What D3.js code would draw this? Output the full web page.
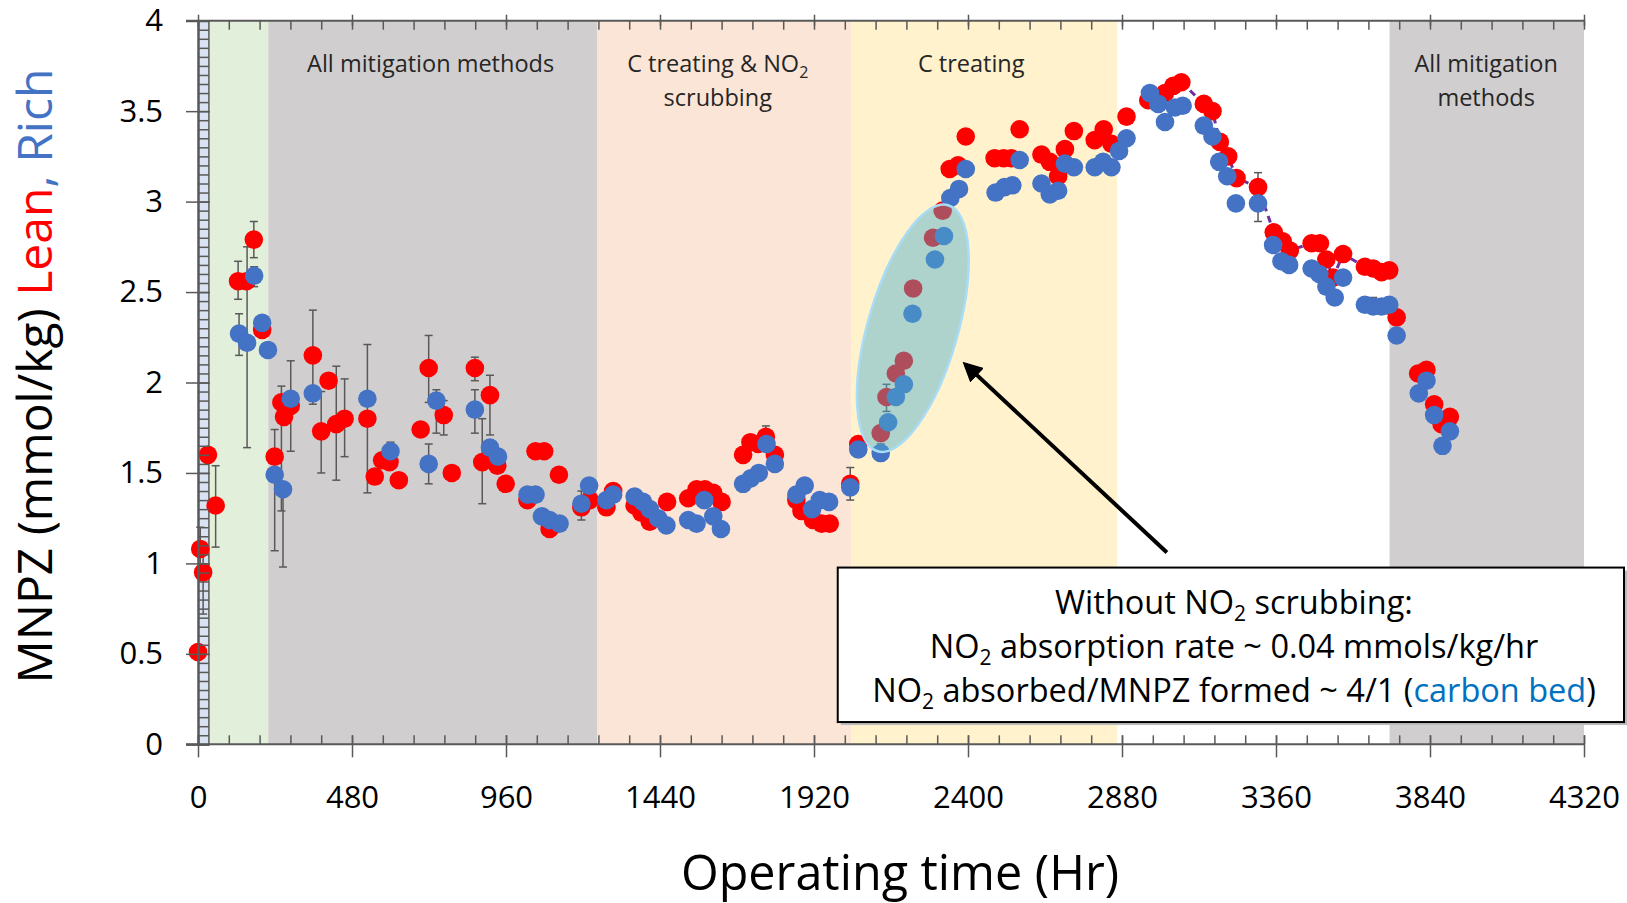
<!DOCTYPE html>
<html>
<head>
<meta charset="utf-8">
<script src="https://cdn.jsdelivr.net/npm/d3@7"></script>
<style>
  body { margin: 0; background: #fff; }
  text { font-family: "Open Sans", sans-serif; }
</style>
</head>
<body>
<svg id="chart" width="1627" height="903"></svg>
<script>
// Lean (red) MNPZ, [hours, mmol/kg]
var leanData = [[0,0.51],[7,1.08],[16,0.95],[31,1.60],[55,1.32],[125,2.56],[151,2.56],[174,2.79],[200,2.29],
  [239,1.59],[260,1.89],[268,1.81],[289,1.87],[358,2.15],[384,1.73],[407,2.01],[431,1.77],[457,1.80],
  [528,1.80],[551,1.48],[574,1.57],[597,1.56],[626,1.46],[694,1.74],[719,2.08],[766,1.82],[791,1.50],
  [863,2.08],[886,1.56],[910,1.93],[933,1.54],[959,1.44],[1027,1.35],[1052,1.62],[1079,1.62],[1096,1.19],
  [1125,1.49],[1195,1.31],[1221,1.35],[1273,1.31],[1294,1.40],[1361,1.32],[1382,1.28],[1408,1.23],
  [1462,1.34],[1528,1.36],[1554,1.41],[1580,1.41],[1606,1.39],[1632,1.34],[1699,1.60],[1722,1.67],
  [1746,1.66],[1770,1.70],[1798,1.60],[1865,1.35],[1881,1.29],[1917,1.24],[1944,1.22],[1969,1.22],
  [2033,1.44],[2058,1.66],[2128,1.72],[2146,1.92],[2175,2.05],[2200,2.12],[2229,2.52],[2291,2.80],
  [2321,2.95],[2343,3.18],[2369,3.20],[2393,3.36],[2483,3.24],[2511,3.24],[2535,3.24],[2561,3.40],
  [2629,3.26],[2655,3.22],[2681,3.14],[2702,3.29],[2730,3.39],[2795,3.34],[2823,3.40],[2847,3.32],
  [2894,3.47],[2962,3.56],[3014,3.60],[3040,3.64],[3065,3.66],[3135,3.54],[3162,3.50],[3185,3.33],
  [3211,3.25],[3237,3.13],[3304,3.08],[3353,2.83],[3381,2.78],[3403,2.73],[3471,2.77],[3497,2.77],
  [3517,2.68],[3538,2.58],[3569,2.71],[3637,2.64],[3663,2.63],[3689,2.61],[3713,2.62],[3736,2.36],
  [3803,2.05],[3829,2.07],[3853,1.88],[3876,1.77],[3902,1.81]];

// Rich (blue) MNPZ, [hours, mmol/kg]
var richData = [[128,2.27],[153,2.22],[175,2.59],[200,2.33],[218,2.18],[239,1.49],[265,1.41],[289,1.91],
  [358,1.94],[528,1.91],[600,1.62],[719,1.55],[743,1.90],[863,1.85],[910,1.64],[935,1.59],[1027,1.38],
  [1052,1.38],[1072,1.26],[1096,1.24],[1127,1.22],[1195,1.33],[1219,1.43],[1273,1.35],[1294,1.38],
  [1361,1.37],[1387,1.34],[1408,1.30],[1434,1.25],[1460,1.21],[1528,1.24],[1554,1.22],[1578,1.35],
  [1606,1.26],[1630,1.19],[1699,1.44],[1723,1.47],[1748,1.50],[1772,1.66],[1798,1.55],[1865,1.38],
  [1891,1.43],[1914,1.30],[1938,1.35],[1967,1.34],[2033,1.42],[2058,1.63],[2128,1.61],[2151,1.78],
  [2175,1.92],[2200,1.99],[2227,2.38],[2297,2.68],[2325,2.81],[2345,3.02],[2372,3.07],[2393,3.18],
  [2486,3.05],[2514,3.08],[2538,3.09],[2561,3.23],[2629,3.10],[2655,3.04],[2681,3.06],[2702,3.21],
  [2730,3.19],[2795,3.19],[2821,3.22],[2847,3.19],[2871,3.28],[2894,3.35],[2967,3.60],[2993,3.54],
  [3014,3.44],[3045,3.52],[3069,3.53],[3135,3.42],[3162,3.36],[3183,3.22],[3208,3.14],[3235,2.99],
  [3304,2.99],[3351,2.76],[3377,2.67],[3401,2.65],[3471,2.63],[3495,2.60],[3517,2.53],[3543,2.47],
  [3569,2.58],[3637,2.43],[3663,2.42],[3689,2.42],[3713,2.43],[3736,2.26],[3805,1.94],[3829,2.01],
  [3853,1.82],[3879,1.65],[3902,1.73]];

// error bars [hours, low, high]
var errorBars = [[7,0.95,1.20],[16,0.72,1.08],[55,1.09,1.54],[125,2.46,2.67],[174,2.69,2.89],[239,1.07,1.74],
  [260,1.29,1.98],[289,1.62,2.12],[358,1.88,2.40],[384,1.50,1.95],[431,1.46,2.09],[457,1.59,2.02],
  [528,1.39,2.21],[719,1.89,2.26],[766,1.71,1.90],[863,2.01,2.14],[886,1.33,1.80],[910,1.71,2.04],
  [959,1.40,1.47],[1079,1.59,1.66],[1195,1.24,1.40],[1294,1.36,1.44],[1770,1.66,1.76],[2033,1.35,1.53],
  [2058,1.62,1.70],[3304,2.89,3.16],[128,2.15,2.38],[153,1.64,2.75],[175,2.53,2.64],[265,0.98,1.41],
  [600,1.55,1.67],[719,1.44,1.66],[743,1.72,1.96],[863,1.72,1.96],[2128,1.58,1.66],[2146,1.84,1.99],
  [3663,2.38,2.47],[3713,2.38,2.47]];

// operating periods [start, end, colour, label lines]
var periods = [
  [0, 34, "#dae3f3", []],
  [34, 219, "#e2efda", []],
  [219, 1245, "#d0cece", ["All mitigation methods"]],
  [1245, 2036, "#fbe5d6", ["C treating & NO|2", "scrubbing"]],
  [2036, 2865, "#fff2cc", ["C treating"]],
  [3714, 4320, "#d0cece", ["All mitigation", "methods"]]
];
var periodLabelX = [null, null, 725, 1620, 2410, 4015];

var xMajor = d3.range(0, 4321, 480);
var xMinor = d3.range(0, 4321, 96);
var yMajor = d3.range(0, 4.01, 0.5);
var yMinor = d3.range(0, 4.001, 0.05);

var boxLines = [
  [["Without NO", "k"], ["2", "sub"], [" scrubbing:", "k"]],
  [["NO", "k"], ["2", "sub"], [" absorption rate ~ 0.04 mmols/kg/hr", "k"]],
  [["NO", "k"], ["2", "sub"], [" absorbed/MNPZ formed ~ 4/1 (", "k"], ["carbon bed", "b"], [")", "k"]]
];

var svg = d3.select("#chart");
var x = d3.scaleLinear().domain([0, 4320]).range([198, 1584]);
var y = d3.scaleLinear().domain([0, 4]).range([744.3, 20.7]);
var axisCol = "#595959";

// background bands
periods.forEach(function(p, i) {
  svg.append("rect")
    .attr("x", x(p[0])).attr("y", y(4))
    .attr("width", x(p[1]) - x(p[0])).attr("height", y(0) - y(4))
    .attr("fill", p[2]);
  p[3].forEach(function(line, j) {
    var t = svg.append("text")
      .attr("x", x(periodLabelX[i])).attr("y", 72 + j * 34)
      .attr("text-anchor", "middle")
      .style("font-size", "23.5px").attr("fill", "#262626");
    var parts = line.split("|");
    t.append("tspan").text(parts[0]);
    if (parts[1]) t.append("tspan").attr("dy", 6).style("font-size", "16px").text(parts[1]);
  });
});
// blue strip edge
svg.append("line").attr("x1", x(34)).attr("x2", x(34)).attr("y1", y(0)).attr("y2", y(4))
  .attr("stroke", axisCol).attr("stroke-width", 1.5);

// trend line through the lean data on the way down
var trend = leanData.filter(function(d) { return d[0] >= 3065 && d[0] <= 3713; });
svg.append("path")
  .datum(trend)
  .attr("d", d3.line().x(function(d) { return x(d[0]); }).y(function(d) { return y(d[1]); }))
  .attr("fill", "none").attr("stroke", "#7030a0").attr("stroke-width", 3)
  .attr("stroke-dasharray", "7,5");

// error bars
var eb = svg.append("g").attr("stroke", "#595959").attr("stroke-width", 1.5);
errorBars.forEach(function(e) {
  eb.append("line").attr("x1", x(e[0])).attr("x2", x(e[0])).attr("y1", y(e[1])).attr("y2", y(e[2]));
  eb.append("line").attr("x1", x(e[0]) - 4).attr("x2", x(e[0]) + 4).attr("y1", y(e[1])).attr("y2", y(e[1]));
  eb.append("line").attr("x1", x(e[0]) - 4).attr("x2", x(e[0]) + 4).attr("y1", y(e[2])).attr("y2", y(e[2]));
});

svg.append("g").selectAll("circle").data(leanData).enter().append("circle")
  .attr("cx", function(d) { return x(d[0]); })
  .attr("cy", function(d) { return y(d[1]); })
  .attr("r", 9.3).attr("fill", "#ff0000");

svg.append("g").selectAll("circle").data(richData).enter().append("circle")
  .attr("cx", function(d) { return x(d[0]); })
  .attr("cy", function(d) { return y(d[1]); })
  .attr("r", 9.3).attr("fill", "#4472c4");

// axes
var fmt = d3.format("");
var bottomMin = svg.append("g").attr("transform", "translate(0," + y(0) + ")")
  .call(d3.axisTop(x).tickValues(xMinor).tickSize(9).tickFormat(""));
var bottomMaj = svg.append("g").attr("transform", "translate(0," + y(0) + ")")
  .call(d3.axisBottom(x).tickValues(xMajor).tickSize(13).tickPadding(29).tickFormat(fmt));
bottomMaj.selectAll(".tick line").attr("y1", -9);
bottomMaj.selectAll("text").style("font-size", "31px").attr("fill", "#000");

var topMin = svg.append("g").attr("transform", "translate(0," + y(4) + ")")
  .call(d3.axisBottom(x).tickValues(xMinor).tickSize(9).tickFormat(""));
var topMaj = svg.append("g").attr("transform", "translate(0," + y(4) + ")")
  .call(d3.axisBottom(x).tickValues(xMajor).tickSize(5).tickFormat(""));
topMaj.selectAll(".tick line").attr("y1", -6);

var leftMin = svg.append("g").attr("transform", "translate(" + x(0) + ",0)")
  .call(d3.axisRight(y).tickValues(yMinor).tickSize(11).tickFormat(""));
var leftMaj = svg.append("g").attr("transform", "translate(" + x(0) + ",0)")
  .call(d3.axisLeft(y).tickValues(yMajor).tickSize(12).tickPadding(23).tickFormat(fmt));
leftMaj.selectAll(".tick line").attr("x1", 12);
leftMaj.selectAll("text").style("font-size", "31px").attr("fill", "#000");

[bottomMin, bottomMaj, topMin, topMaj, leftMin, leftMaj].forEach(function(g) {
  g.selectAll(".domain").attr("stroke", axisCol).attr("stroke-width", 2);
  g.selectAll(".tick line").attr("stroke", axisCol).attr("stroke-width", 1.5);
});
bottomMin.select(".domain").attr("d", "M186,0H1584");
topMin.select(".domain").attr("d", "M186,0H1584");
bottomMaj.select(".domain").remove();
topMaj.select(".domain").remove();

// highlight ellipse
svg.append("ellipse")
  .attr("transform", "translate(" + x(2228) + "," + y(2.30) + ") rotate(16)")
  .attr("rx", 45).attr("ry", 128)
  .attr("fill", "rgba(75,170,205,0.45)")
  .attr("stroke", "#a9dcf5").attr("stroke-width", 2.5);

// arrow
svg.append("defs").append("marker")
  .attr("id", "head").attr("viewBox", "0 0 10 10").attr("refX", 8).attr("refY", 5)
  .attr("markerWidth", 5).attr("markerHeight", 5).attr("orient", "auto")
  .append("path").attr("d", "M0,0L10,5L0,10z").attr("fill", "#000");
svg.append("line")
  .attr("x1", x(3020)).attr("y1", y(1.06)).attr("x2", x(2392)).attr("y2", y(2.10))
  .attr("stroke", "#000").attr("stroke-width", 4).attr("marker-end", "url(#head)");

// annotation box
var bx = x(1994), by = y(0.977), bw = 1624 - bx, bh = y(0.123) - y(0.977);
svg.append("rect").attr("x", bx + 3).attr("y", by + 3).attr("width", bw).attr("height", bh)
  .attr("fill", "#bbb");
svg.append("rect").attr("x", bx).attr("y", by).attr("width", bw).attr("height", bh)
  .attr("fill", "#fff").attr("stroke", "#000").attr("stroke-width", 2);
boxLines.forEach(function(line, i) {
  var t = svg.append("text").attr("x", 1234).attr("y", 614 + i * 44)
    .attr("text-anchor", "middle").style("font-size", "32.5px").attr("fill", "#000");
  var shifted = false;
  line.forEach(function(part) {
    if (part[1] === "sub") {
      t.append("tspan").attr("dy", 7).style("font-size", "21px").text(part[0]);
      shifted = true;
    } else {
      var s = t.append("tspan").text(part[0]);
      if (part[1] === "b") s.attr("fill", "#0070c0");
      if (shifted) { s.attr("dy", -7); shifted = false; }
    }
  });
});

// axis titles
var yt = svg.append("text")
  .attr("transform", "translate(52,376) rotate(-90)")
  .attr("text-anchor", "middle").style("font-size", "48px");
yt.append("tspan").attr("fill", "#000").text("MNPZ (mmol/kg) ");
yt.append("tspan").attr("fill", "#ff0000").text("Lean");
yt.append("tspan").attr("fill", "#4472c4").text(", Rich");

svg.append("text").attr("x", 900).attr("y", 890).attr("text-anchor", "middle")
  .style("font-size", "48.5px").attr("fill", "#000").text("Operating time (Hr)");
</script>
</body>
</html>
